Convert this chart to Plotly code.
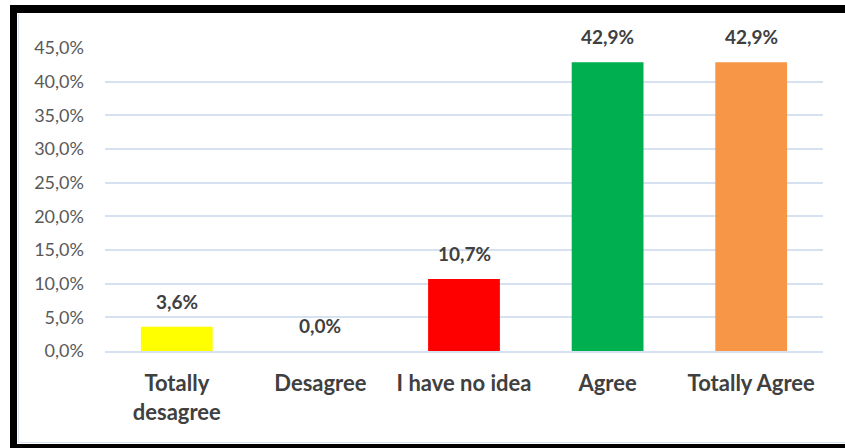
import plotly.graph_objects as go

categories = ["Totally desagree", "Desagree", "I have no idea", "Agree", "Totally Agree"]
tick_labels = ["Totally<br>desagree", "Desagree", "I have no idea", "Agree", "Totally Agree"]
values = [3.6, 0.0, 10.7, 42.9, 42.9]
colors = ["#FFFF00", "#FFFF00", "#FF0000", "#00B050", "#F79646"]
y_ticks = [0, 5, 10, 15, 20, 25, 30, 35, 40, 45]
y_tick_text = ["0,0%", "5,0%", "10,0%", "15,0%", "20,0%", "25,0%", "30,0%", "35,0%", "40,0%", "45,0%"]

W, H = 845, 448
L, R, T, B = 105, 22, 48, 97
pw, ph = W - L - R, H - T - B

def px_x(x):
    return (x - L) / pw

def px_y(y):
    return (H - B - y) / ph

fig = go.Figure()
fig.add_trace(go.Bar(
    x=categories, y=values, marker=dict(color=colors, line=dict(width=0)),
    width=0.5, hoverinfo="skip",
))

for c, v in zip(categories, values):
    fig.add_annotation(
        x=c, y=v, text="<b>" + f"{v:.1f}".replace(".", ",") + "%</b>",
        showarrow=False, yanchor="bottom", yshift=12,
        font=dict(family="Lato", size=19, color="#404040"),
    )

grid = "#D6E1F1"
shapes = [
    # black frame
    dict(type="rect", xref="paper", yref="paper", x0=px_x(10), x1=px_x(17), y0=px_y(5), y1=px_y(460),
         fillcolor="black", line=dict(width=0), layer="above"),
    dict(type="rect", xref="paper", yref="paper", x0=px_x(10), x1=px_x(860), y0=px_y(5), y1=px_y(13),
         fillcolor="black", line=dict(width=0), layer="above"),
    dict(type="rect", xref="paper", yref="paper", x0=px_x(10), x1=px_x(860), y0=px_y(444), y1=px_y(460),
         fillcolor="black", line=dict(width=0), layer="above"),
    # thin light inner lines
    dict(type="line", xref="paper", yref="paper", x0=px_x(18.5), x1=px_x(18.5), y0=px_y(14), y1=px_y(443),
         line=dict(color=grid, width=1), layer="above"),
    dict(type="line", xref="paper", yref="paper", x0=px_x(18), x1=px_x(860), y0=px_y(442.5), y1=px_y(442.5),
         line=dict(color=grid, width=1), layer="above"),
]

fig.update_layout(
    width=W, height=H,
    margin=dict(l=L, r=R, t=T, b=B),
    paper_bgcolor="white", plot_bgcolor="white",
    showlegend=False,
    shapes=shapes,
    xaxis=dict(
        tickmode="array", tickvals=categories, ticktext=tick_labels,
        tickfont=dict(family="Lato", size=22, color="#404040", weight="bold"),
        showgrid=False, showline=True, linecolor=grid, linewidth=2,
        ticks="", ticklabelstandoff=12,
    ),
    yaxis=dict(
        range=[0, 45], tickmode="array", tickvals=y_ticks, ticktext=y_tick_text,
        tickfont=dict(family="Lato", size=18, color="#595959"),
        showgrid=True, gridcolor=grid, gridwidth=2,
        zeroline=False, showline=False, ticks="", ticklabelstandoff=20,
    ),
)

fig.write_html(
    "out.html",
    config={"displayModeBar": False},
    post_script="document.body.style.margin='0';document.body.style.overflow='hidden';",
)
